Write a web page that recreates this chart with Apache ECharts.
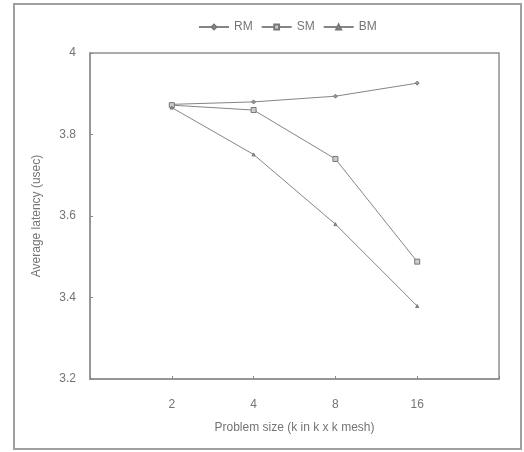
<!DOCTYPE html>
<html><head><meta charset="utf-8">
<script src="https://cdn.jsdelivr.net/npm/echarts@6/dist/echarts.min.js"></script>
<style>html,body{margin:0;padding:0;background:#fff}#c{width:524px;height:452px}</style>
</head><body><div id="c"></div>
<script>
const categories = ['2', '4', '8', '16'];
const xPositions = [1, 2, 3, 4];
const rm = [3.874, 3.880, 3.894, 3.926];
const sm = [3.872, 3.860, 3.740, 3.488];
const bm = [3.866, 3.751, 3.580, 3.379];
const yTicks = [3.2, 3.4, 3.6, 3.8, 4];

const chart = echarts.init(document.getElementById('c'));
const grey = '#858585';
const txt = '#747474';
const font = 'Liberation Sans';
function mk(name, vals, sym, size, fill) {
  return {
    name, type: 'line', data: xPositions.map((x, i) => [x, vals[i]]),
    symbol: sym, symbolSize: size, showSymbol: true,
    lineStyle: { color: grey, width: 1 },
    itemStyle: { color: fill, borderColor: '#777', borderWidth: 1 },
    emphasis: { disabled: true }, animation: false
  };
}
chart.setOption({
  animation: false,
  textStyle: { fontFamily: font },
  graphic: [{ type: 'rect', shape: { x: 14, y: 4, width: 507, height: 445 }, style: { fill: 'none', stroke: '#a0a0a0', lineWidth: 2 }, z: -1 }],
  legend: {
    top: 16, left: 193, itemGap: 8, itemWidth: 30, itemHeight: 6,
    textStyle: { color: txt, fontSize: 12, fontFamily: font },
    data: ['RM', 'SM', 'BM']
  },
  grid: { left: 90, top: 53, right: 25, bottom: 73, show: true, borderColor: '#909090', borderWidth: 1.5, containLabel: false },
  xAxis: {
    type: 'value', min: 0, max: 5, interval: 1,
    name: 'Problem size (k in k x k mesh)', nameLocation: 'middle', nameGap: 43,
    nameTextStyle: { color: txt, fontSize: 12, fontFamily: font },
    axisLine: { show: true, lineStyle: { color: '#909090', width: 1.5 } },
    axisTick: { inside: true, length: 3, lineStyle: { color: '#888' } },
    axisLabel: { color: txt, fontSize: 12, margin: 20, formatter: v => { const i = xPositions.indexOf(v); return i >= 0 ? categories[i] : ''; } },
    splitLine: { show: false }
  },
  yAxis: {
    type: 'value', min: 3.2, max: 4, interval: 0.2,
    name: 'Average latency (usec)', nameLocation: 'middle', nameGap: 47,
    nameTextStyle: { color: txt, fontSize: 12, fontFamily: font },
    axisLine: { show: true, lineStyle: { color: '#909090', width: 1.5 } },
    axisTick: { inside: true, length: 3, lineStyle: { color: '#888' } },
    axisLabel: { color: txt, fontSize: 12, margin: 14, formatter: v => { const t = yTicks.find(y => Math.abs(y - v) < 1e-6); return t === undefined ? '' : String(t); } },
    splitLine: { show: false }
  },
  series: [mk('RM', rm, 'diamond', 4, '#999'), mk('SM', sm, 'rect', 5, '#ccc'), mk('BM', bm, 'triangle', 3, '#999')]
});
</script></body></html>
